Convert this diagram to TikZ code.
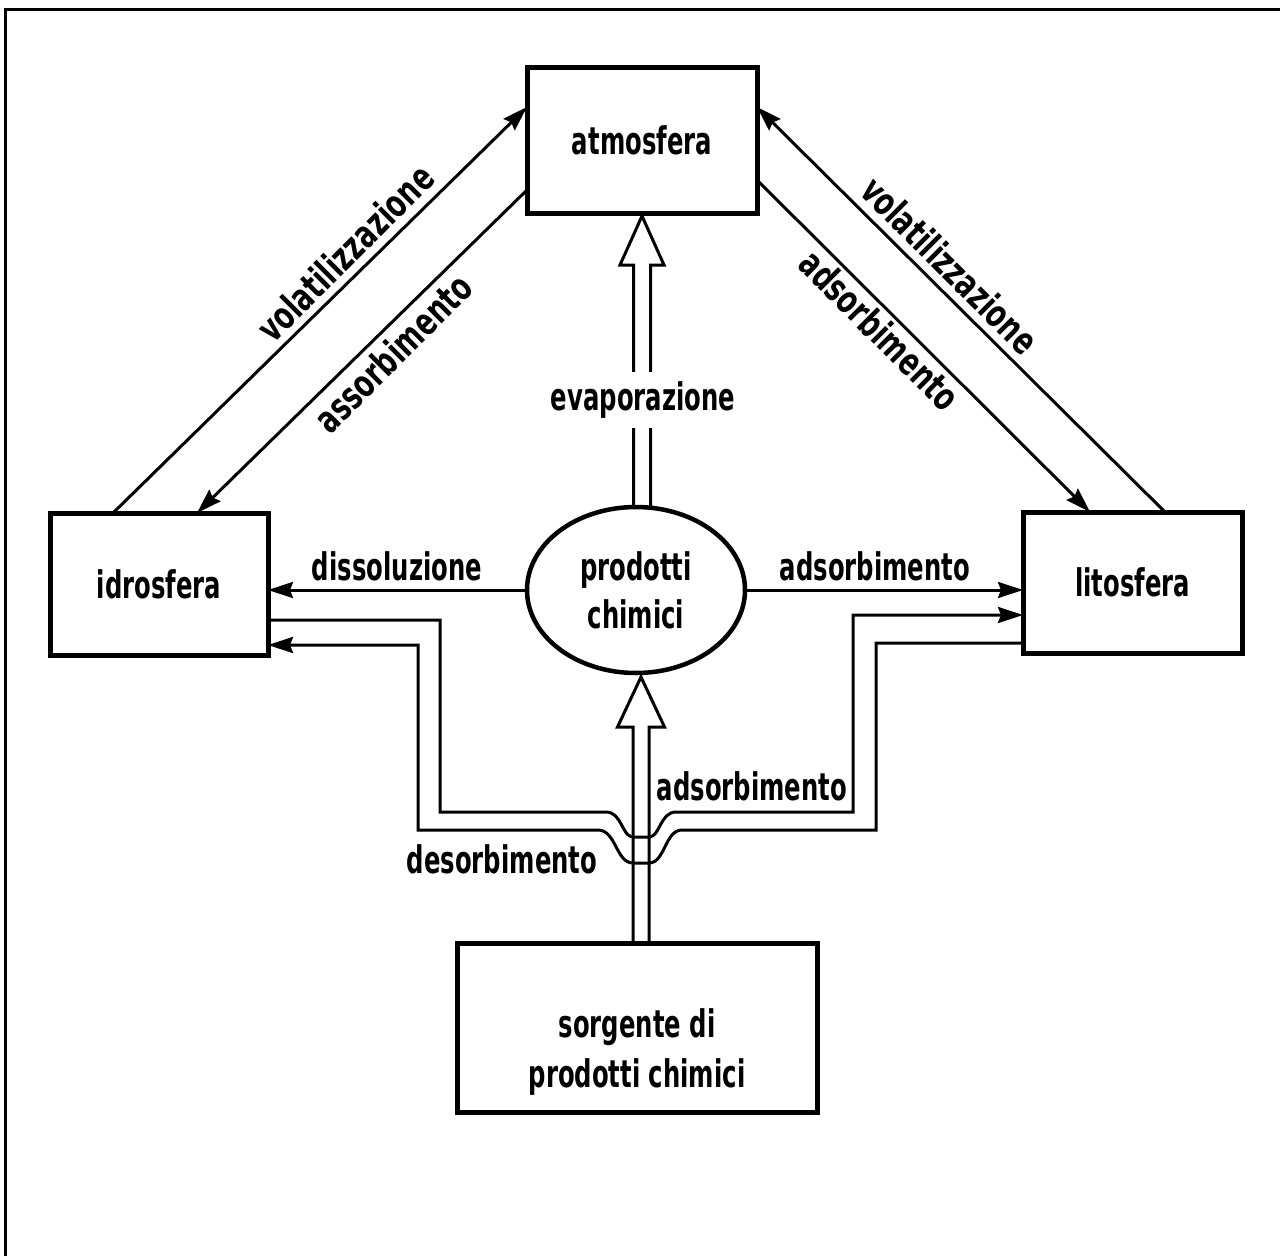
\documentclass[tikz,border=0pt]{standalone}
\usepackage{fontspec}
\setmainfont{DejaVu Sans}[FakeStretch=0.64,UprightFont=* Bold]
\newfontfamily\diagfont{DejaVu Sans}[FakeStretch=0.7,UprightFont=* Bold]
\usetikzlibrary{arrows.meta,calc,shapes.geometric}
\begin{document}
\begin{tikzpicture}[x=1pt,y=-1pt,
  box/.style={draw, line width=5pt, rectangle, inner sep=0pt, outer sep=0pt,
              font=\fontsize{38}{50}\selectfont},
  lbl/.style={font=\fontsize{38}{50}\selectfont, inner sep=0pt},
  diag/.style={font=\diagfont\fontsize{38}{50}\selectfont, inner sep=0pt},
  conn/.style={line width=3pt},
  arr/.style={conn, -{Stealth[length=25pt,width=16pt,inset=3pt]}},
  hollow/.style={line width=3pt, line join=miter},
]
\useasboundingbox (0,0) rectangle (1280,1256);
\draw[line width=3pt] (5,1256) -- (5,9) -- (1280,9);

% nodes
\node[box, minimum width=230pt, minimum height=146pt] (atm) at (642,140) {atmosfera};
\node[box, minimum width=218pt, minimum height=142pt] (idr) at (159,584) {idrosfera};
\node[box, minimum width=219pt, minimum height=141pt] (lit) at (1132.5,582.5) {litosfera};
\node[draw, ellipse, line width=4.5pt, minimum width=218pt, minimum height=166pt,
      inner sep=0pt, outer sep=0pt, align=center, font=\fontsize{38}{48}\selectfont]
      (ell) at (636,590) {prodotti\\chimici};
\node[box, minimum width=360pt, minimum height=169pt] (src) at (637,1027.5) {};
\node[lbl, align=center] (srct) at (637,1052) {sorgente di\\prodotti chimici};

% diagonal connectors
\coordinate (v1s) at ($(idr.north west)+(63,0)$);
\coordinate (v1e) at ($(atm.north west)+(0,40)$);
\coordinate (a1s) at ($(atm.south west)+(0,-23)$);
\coordinate (a1e) at ($(idr.north west)+(147,0)$);
\coordinate (v2s) at ($(lit.north west)+(142,0)$);
\coordinate (v2e) at ($(atm.north east)+(0,40)$);
\coordinate (a2s) at ($(atm.south east)+(0,-33)$);
\coordinate (a2e) at ($(lit.north west)+(67,0)$);
\draw[arr] (v1s) -- (v1e);
\draw[arr] (a1s) -- (a1e);
\draw[arr] (v2s) -- (v2e);
\draw[arr] (a2s) -- (a2e);

\node[diag, rotate=45] (vol1) at (345,253) {volatilizzazione};
\node[diag, rotate=45] (ass1) at (393,353) {assorbimento};
\node[diag, rotate=-45] (vol2) at (950,265) {volatilizzazione};
\node[diag, rotate=-45] (ads3) at (880,330) {adsorbimento};

% horizontal connectors from the ellipse
\draw[arr] (ell.west) -- (ell.west -| idr.east);
\draw[arr] (ell.east) -- (ell.east -| lit.west);
\node[lbl, anchor=base] (dis) at (397,580) {dissoluzione};
\node[lbl, anchor=base] (ads1) at (875,580) {adsorbimento};

% evaporazione hollow arrow
\coordinate (evtip) at ($(atm.south)+(0,3)$);
\coordinate (evL) at ($(evtip)+(-8.5,0)$);
\coordinate (evR) at ($(evtip)+(8.5,0)$);
\draw[hollow] (evL |- ell.north) -- ($(evtip)+(-8.5,49)$) -- ($(evtip)+(-22,49)$)
  -- (evtip) -- ($(evtip)+(22,49)$) -- ($(evtip)+(8.5,49)$) -- (evR |- ell.north);
\node[lbl, fill=white, inner xsep=6pt, inner ysep=10pt] (evl) at (643,400) {evaporazione};

% source hollow arrow
\coordinate (lotip) at ($(ell.south)+(5,4)$);
\coordinate (loL) at ($(lotip)+(-8,0)$);
\coordinate (loR) at ($(lotip)+(8,0)$);
\draw[hollow] (loL |- src.north) -- ($(lotip)+(-8,50)$) -- ($(lotip)+(-23.5,50)$)
  -- (lotip) -- ($(lotip)+(23.5,50)$) -- ($(lotip)+(8,50)$) -- (loR |- src.north);

% path A: idrosfera -> litosfera (adsorbimento)
\coordinate (pa5) at (853,615);
\draw[arr] ($(idr.east)+(0,36)$) -- (440,620) -- (440,812) -- (606,812)
  .. controls (622,812) and (622,837) .. (633,837) -- (649,837)
  .. controls (660,837) and (660,812) .. (676,812) -- (853,812) -- (pa5)
  -- (lit.west |- pa5);
% path B: litosfera -> idrosfera (desorbimento)
\draw[arr] ($(lit.west)+(0,60.5)$) -- (876,643) -- (876,830) -- (682,830)
  .. controls (665,830) and (665,863) .. (649,863) -- (633,863)
  .. controls (616,863) and (616,830) .. (598,830) -- (418,830) -- (418,645)
  -- ($(idr.east)+(0,61)$);
\node[lbl, anchor=base] (ads2) at (752,800) {adsorbimento};
\node[lbl, anchor=base] (des) at (502,873) {desorbimento};
\end{tikzpicture}
\end{document}
